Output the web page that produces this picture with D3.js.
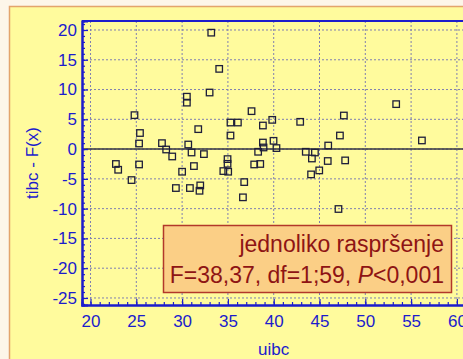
<!DOCTYPE html>
<html>
<head>
<meta charset="utf-8">
<script src="https://cdn.jsdelivr.net/npm/d3@7"></script>
<style>
body { margin: 0; background: #fdf6e9; }
svg { display: block; }
</style>
</head>
<body>
<svg id="chart" width="463" height="359"></svg>
<script>
// uibc values
var uibc = [33.0, 30.52, 30.52, 24.8, 25.4, 31.76, 25.3, 27.8, 28.26, 30.67,
    31.03, 32.38, 28.92, 22.77, 23.02, 25.3, 31.29, 30.0, 24.48, 29.32,
    30.85, 31.98, 31.9, 33.18, 34.05, 37.58, 35.28, 36.09, 38.82, 39.84,
    42.89, 47.66, 35.28, 47.23, 38.82, 38.89, 39.98, 40.3, 38.3, 43.5,
    44.5, 45.95, 44.17, 34.96, 34.96, 34.5, 35.03, 37.87, 38.53, 45.9,
    47.8, 44.97, 44.08, 36.78, 36.64, 47.07, 53.37, 56.18];
// residuals tibc - F(x)
var resid = [9.5, 8.8, 7.8, 5.7, 2.7, 3.35, 0.94, 1.0, -0.07, 0.77,
    -0.57, -0.84, -1.24, -2.5, -3.47, -2.58, -2.85, -3.8, -5.2, -6.54,
    -6.54, -6.1, -7.0, 19.55, 13.47, 6.37, 4.46, 4.46, 3.96, 4.91,
    4.58, 5.64, 2.28, 2.28, 1.1, 0.27, 1.39, 0.17, -0.45, -0.45,
    -0.57, 0.6, -1.58, -1.68, -2.47, -3.69, -3.8, -2.58, -2.5, -2.0,
    -1.9, -3.58, -4.25, -5.54, -8.1, -10.06, 7.55, 1.45];
var xTicks = [20, 25, 30, 35, 40, 45, 50, 55, 60];
var yTicks = [20, 15, 10, 5, 0, -5, -10, -15, -20, -25];
var noteLine1 = "jednoliko raspršenje";
var noteLine2 = "F=38,37, df=1;59, ";

var svg = d3.select("#chart");
var blue = "#1c1ccc";
var font = "Liberation Sans, Arial, sans-serif";
var plot = { left: 82, top: 21, right: 470, bottom: 305 };

// background panel
svg.append("rect")
    .attr("x", 9.5).attr("y", 6.5)
    .attr("width", 470).attr("height", 370)
    .style("fill", "#fffb9d")
    .style("stroke", "#e3a46c")
    .style("stroke-width", 1.5);

var xScale = d3.scaleLinear()
    .domain([19.07, 61.43])
    .range([plot.left, plot.right]);
var yScale = d3.scaleLinear()
    .domain([-26.18, 21.51])
    .range([plot.bottom, plot.top]);

// grid
var grid = svg.append("g").attr("class", "grid");
grid.selectAll("line.gx")
    .data(xTicks)
    .enter().append("line")
    .attr("class", "gx")
    .attr("x1", function (d) { return xScale(d); })
    .attr("x2", function (d) { return xScale(d); })
    .attr("y1", plot.top).attr("y2", plot.bottom)
    .style("stroke", "#7f7fb0").style("stroke-width", 1)
    .style("stroke-dasharray", "2,2");
grid.selectAll("line.gy")
    .data(yTicks)
    .enter().append("line")
    .attr("class", "gy")
    .attr("x1", plot.left).attr("x2", plot.right)
    .attr("y1", function (d) { return yScale(d); })
    .attr("y2", function (d) { return yScale(d); })
    .style("stroke", "#7f7fb0").style("stroke-width", 1)
    .style("stroke-dasharray", "2,2");

// zero line
svg.append("line")
    .attr("x1", plot.left).attr("x2", plot.right)
    .attr("y1", yScale(0)).attr("y2", yScale(0))
    .style("stroke", "#333344").style("stroke-width", 1.5);

// top frame
svg.append("line")
    .attr("x1", plot.left).attr("x2", plot.right)
    .attr("y1", plot.top).attr("y2", plot.top)
    .style("stroke", blue).style("stroke-width", 2);

// minor ticks
var xMinor = d3.axisBottom(xScale)
    .tickValues(d3.range(20, 62, 1))
    .tickSize(-3).tickFormat("");
var yMinor = d3.axisLeft(yScale)
    .tickValues(d3.range(-26, 22, 1))
    .tickSize(-3).tickFormat("");
svg.append("g")
    .attr("transform", "translate(0," + plot.bottom + ")")
    .call(xMinor);
svg.append("g")
    .attr("transform", "translate(" + plot.left + ",0)")
    .call(yMinor);

var plainNum = function (d) { return String(d); }; // keep ascii hyphen
var xAxis = d3.axisBottom(xScale)
    .tickValues(xTicks).tickSize(-6).tickPadding(12).tickFormat(plainNum);
var yAxis = d3.axisLeft(yScale)
    .tickValues(yTicks).tickSize(-6).tickPadding(5).tickFormat(plainNum);
svg.append("g")
    .attr("class", "x axis")
    .attr("transform", "translate(0," + plot.bottom + ")")
    .call(xAxis);
svg.append("g")
    .attr("class", "y axis")
    .attr("transform", "translate(" + plot.left + ",0)")
    .call(yAxis);

svg.selectAll(".domain")
    .style("stroke", blue).style("stroke-width", 2);
svg.selectAll(".tick line")
    .style("stroke", blue).style("stroke-width", 1.2);
svg.selectAll(".tick text")
    .style("fill", blue)
    .style("font-family", font)
    .style("font-size", "17px");
svg.select(".x.axis").selectAll(".tick text").attr("dy", "0.6em");

// points
svg.append("g").selectAll("rect.pt")
    .data(uibc)
    .enter().append("rect")
    .attr("class", "pt")
    .attr("x", function (d) { return xScale(d) - 3.25; })
    .attr("y", function (d, i) { return yScale(resid[i]) - 3.25; })
    .attr("width", 6.5).attr("height", 6.5)
    .style("fill", "none")
    .style("stroke", "#1e1e3a")
    .style("stroke-width", 1.3);

// axis titles
svg.append("text")
    .attr("transform", "translate(38,163) rotate(-90)")
    .attr("text-anchor", "middle")
    .style("fill", blue)
    .style("font-family", font)
    .style("font-size", "17px")
    .text("tibc - F(x)");
svg.append("text")
    .attr("x", xScale(40)).attr("y", 355)
    .attr("text-anchor", "middle")
    .style("fill", blue)
    .style("font-family", font)
    .style("font-size", "17px")
    .text("uibc");

// note box
var note = svg.append("g");
note.append("rect")
    .attr("x", 163.5).attr("y", 225.5)
    .attr("width", 288).attr("height", 67)
    .style("fill", "#fbcf86")
    .style("stroke", "#b2382a")
    .style("stroke-width", 1.5);
note.append("text")
    .attr("x", 444).attr("y", 252)
    .attr("text-anchor", "end")
    .style("fill", "#8e1414")
    .style("font-family", font)
    .style("font-size", "23px")
    .text(noteLine1);
var t2 = note.append("text")
    .attr("x", 444).attr("y", 283)
    .attr("text-anchor", "end")
    .style("fill", "#8e1414")
    .style("font-family", font)
    .style("font-size", "23px");
t2.append("tspan").text(noteLine2);
t2.append("tspan").style("font-style", "italic").text("P");
t2.append("tspan").text("<0,001");
</script>
</body>
</html>
